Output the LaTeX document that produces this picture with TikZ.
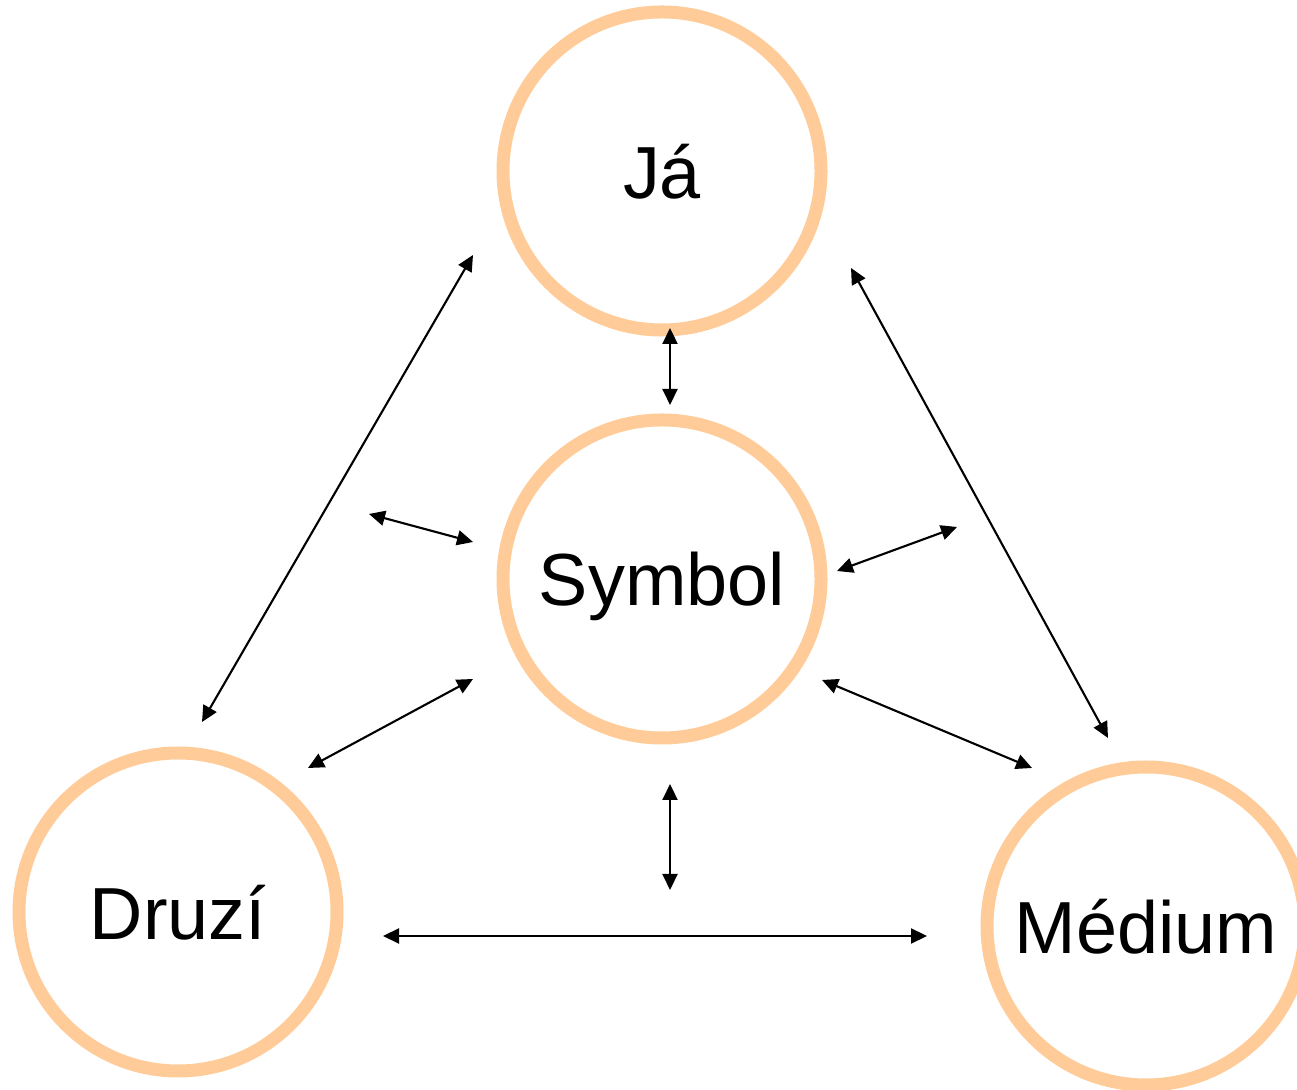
\documentclass[tikz,border=0pt]{standalone}
\usepackage{fontspec}
\setmainfont{Liberation Sans}
\usepackage{tikz}
\usetikzlibrary{arrows.meta}
\usepackage{tkz-euclide}
\definecolor{peach}{RGB}{255,204,153}

\begin{document}
\begin{tikzpicture}[
    ring/.style={circle, draw=peach, line width=0.13cm, minimum size=3.18cm,
        inner sep=0pt, text depth=0pt, font=\fontsize{21}{25}\selectfont},
    arr/.style={>={Triangle[length=0.16cm, width=0.15cm]}, <->, line width=0.6pt}]
        \useasboundingbox (0,0) rectangle (12.97,10.89);

        \node[ring] (ja) at (6.62,9.18) {Já};
        \node[ring] (symbol) at (6.62,5.10) {Symbol};
        \node[ring] (druzi) at (1.78,1.77) {Druzí};
        \node[ring] (medium) at (11.46,1.63) {Médium};

        % arrow ends
        \tkzDefPoints{6.70/7.61/A1,6.70/6.84/A2,6.70/3.05/B1,6.70/1.99/B2}
        \tkzDefPoints{3.83/1.53/C1,9.27/1.53/C2,2.02/3.67/D1,4.73/8.34/D2}
        \tkzDefPoints{8.51/8.21/E1,11.08/3.51/E2,3.69/5.75/F1,4.73/5.47/F2}
        \tkzDefPoints{8.37/5.18/G1,9.57/5.62/G2,3.08/3.21/H1,4.73/4.10/H2}
        \tkzDefPoints{8.22/4.09/K1,10.32/3.21/K2}

        \draw[arr] (A1) -- (A2);
        \draw[arr] (B1) -- (B2);
        \draw[arr] (C1) -- (C2);
        \draw[arr] (D1) -- (D2);
        \draw[arr] (E1) -- (E2);
        \draw[arr] (F1) -- (F2);
        \draw[arr] (G1) -- (G2);
        \draw[arr] (H1) -- (H2);
        \draw[arr] (K1) -- (K2);
    \end{tikzpicture}
\end{document}
